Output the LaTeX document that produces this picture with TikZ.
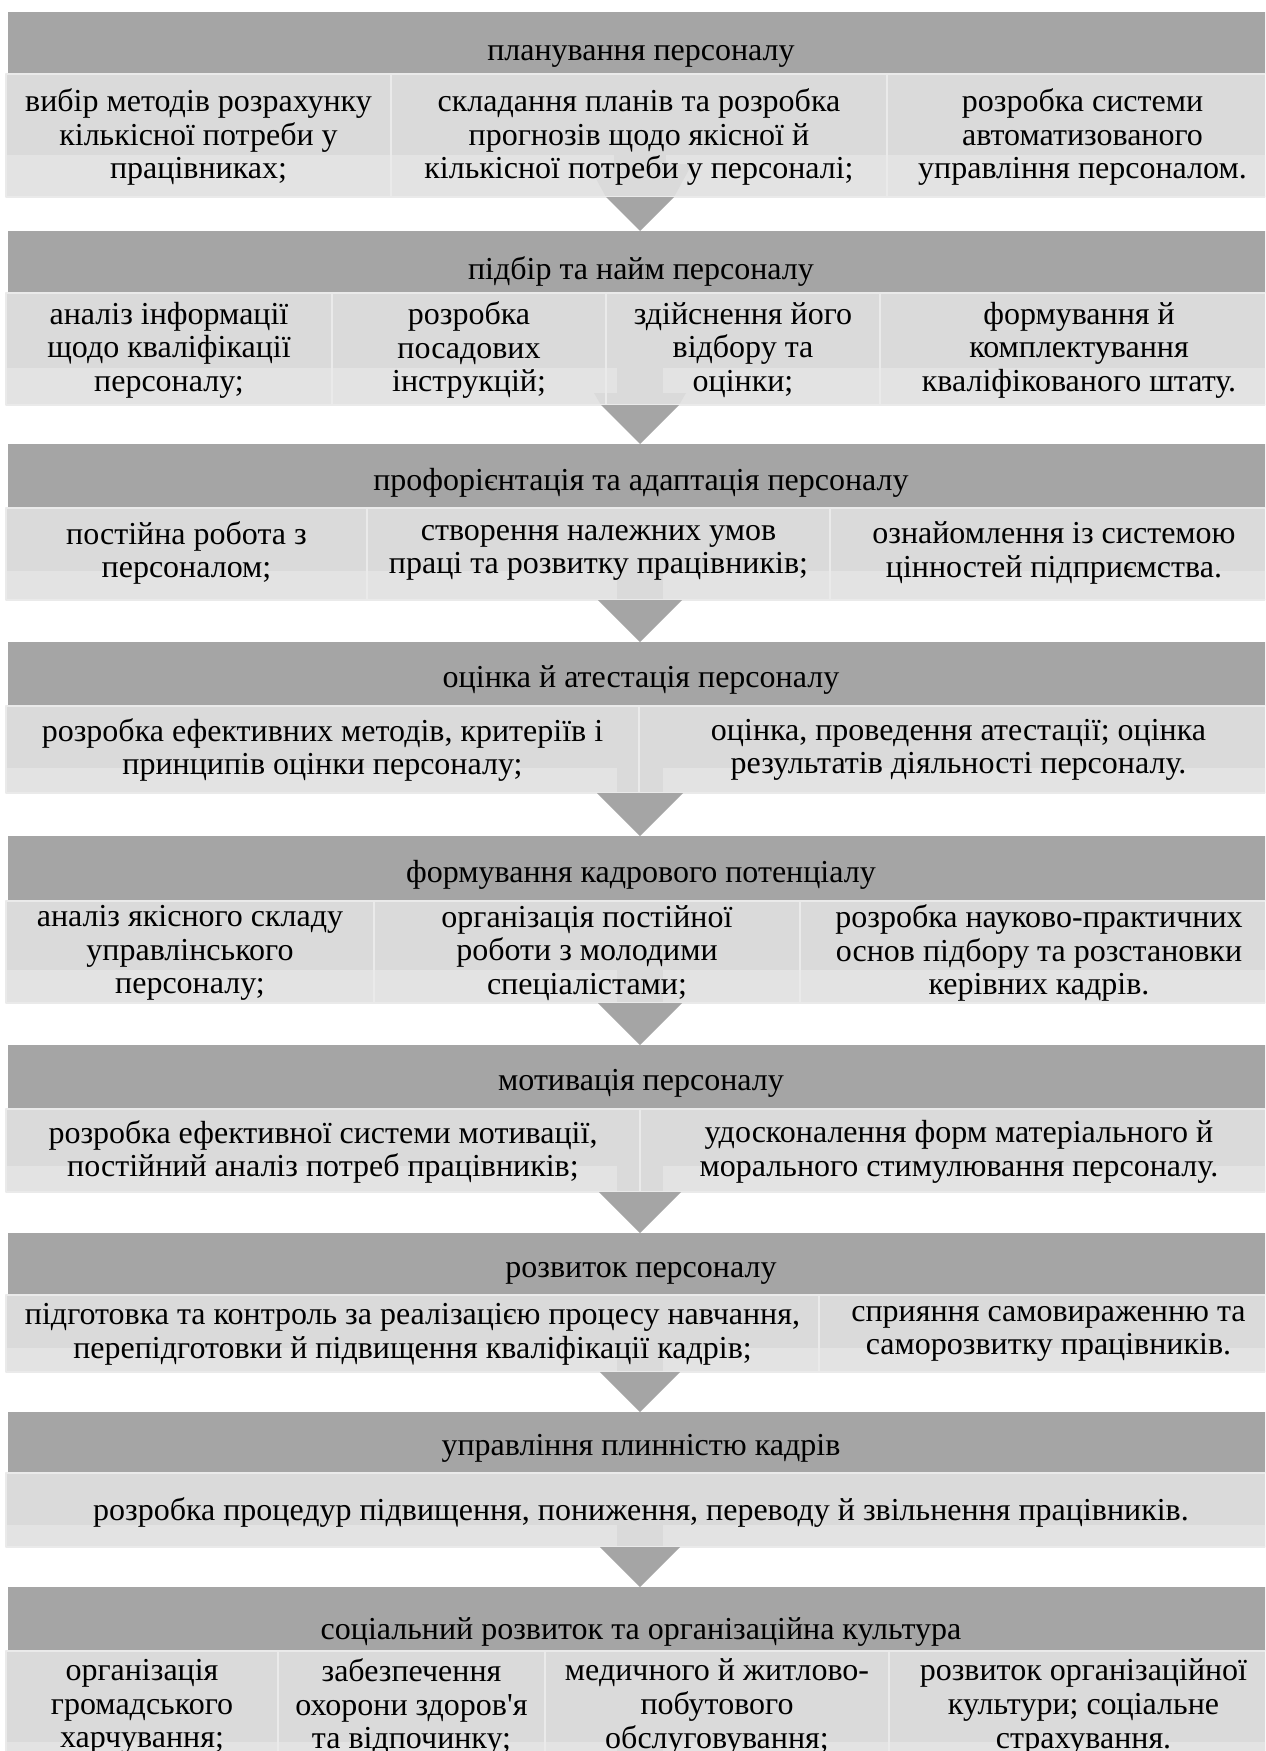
\documentclass[tikz,border=0pt]{standalone}
\usepackage{fontspec}
\setmainfont{Liberation Serif}[Ligatures=TeXOff]
\usetikzlibrary{positioning}

\definecolor{hdrgray}{HTML}{A5A5A5}
\definecolor{cellgray}{HTML}{DADADA}
\definecolor{stripgray}{HTML}{E3E3E3}
\definecolor{edgegray}{HTML}{EAEAEA}

\tikzset{
  hdrtxt/.style={font=\fontsize{16}{17}\selectfont, anchor=base, inner sep=0pt},
  celltxt/.style={font=\fontsize{16}{16.8}\selectfont, align=center, inner sep=0pt},
  celledge/.style={draw=edgegray, line width=0.8pt},
  headtri/.style={fill=hdrgray},
}

\begin{document}
\begin{tikzpicture}[x=0.5pt, y=-0.5pt, line join=round]
\useasboundingbox (0,0) rectangle (1265,1751);
\clip (0,0) rectangle (1265,1751);
\fill[white] (0,0) rectangle (1265,1751);

% band 1: planning
\fill[hdrgray] (8,12) rectangle (1278,74);
\node[hdrtxt] (plan) at (641,60) {планування персоналу};
\fill[cellgray] (6,74) rectangle (1278,197);
\fill[stripgray] (6,155) rectangle (1278,197);
\fill[cellgray] (614,155) rectangle (666,197);
\fill[cellgray] (588,164) -- (692,164) -- (674,197) -- (606,197) -- cycle;
\foreach \a/\b/\t [count=\i] in {6/391/{вибір методів розрахунку\\кількісної потреби у\\працівниках;},
  391/887/{складання планів та розробка\\прогнозів щодо якісної й\\кількісної потреби у персоналі;},
  887/1278/{розробка системи\\автоматизованого\\управління персоналом.}}{
  \draw[celledge] (\a,74) rectangle (\b,197);
  \node[celltxt] (plan\i) at ({(\a+\b)/2},137) {\t};
}
\coordinate (tip1) at (640,231);
\fill[headtri] (606,197) -- (674,197) -- (tip1) -- cycle;

% band 2: selection and hiring
\fill[hdrgray] (8,231) rectangle (1278,293);
\node[hdrtxt] (hire) at (641,279) {підбір та найм персоналу};
\fill[cellgray] (6,293) rectangle (1278,405);
\fill[stripgray] (6,368) rectangle (1278,405);
\fill[cellgray] (617,368) rectangle (663,405);
\fill[cellgray] (594,393) -- (686,393) -- (679,405) -- (601,405) -- cycle;
\foreach \a/\b/\t [count=\i] in {6/332/{аналіз інформації\\щодо кваліфікації\\персоналу;},
  332/606/{розробка\\посадових\\інструкцій;},
  606/880/{здійснення його\\відбору та\\оцінки;},
  880/1278/{формування й\\комплектування\\кваліфікованого штату.}}{
  \draw[celledge] (\a,293) rectangle (\b,405);
  \node[celltxt] (hire\i) at ({(\a+\b)/2},350) {\t};
}
\coordinate (tip2) at (640,444);
\fill[headtri] (601,405) -- (679,405) -- (tip2) -- cycle;

% band 3: orientation and adaptation
\fill[hdrgray] (8,444) rectangle (1278,508);
\node[hdrtxt] (adapt) at (641,490) {профорієнтація та адаптація персоналу};
\fill[cellgray] (6,508) rectangle (1278,600);
\fill[stripgray] (6,571) rectangle (1278,600);
\fill[cellgray] (617,571) rectangle (663,600);
\foreach \a/\b/\t [count=\i] in {6/367/{постійна робота з\\персоналом;},
  367/830/{створення належних умов\\праці та розвитку працівників;},
  830/1278/{ознайомлення із системою\\цінностей підприємства.}}{
  \draw[celledge] (\a,508) rectangle (\b,600);
  \node[celltxt] (adapt\i) at ({(\a+\b)/2},553) {\t};
}
\coordinate (tip3) at (640,642);
\fill[headtri] (598,600) -- (682,600) -- (tip3) -- cycle;

% band 4: assessment and attestation
\fill[hdrgray] (8,642) rectangle (1278,706);
\node[hdrtxt] (assess) at (641,687) {оцінка й атестація персоналу};
\fill[cellgray] (6,706) rectangle (1278,793);
\fill[stripgray] (6,768) rectangle (1278,793);
\fill[cellgray] (617,768) rectangle (663,793);
\foreach \a/\b/\t [count=\i] in {6/639/{розробка ефективних методів, критеріїв і\\принципів оцінки персоналу;},
  639/1278/{оцінка, проведення атестації; оцінка\\результатів діяльності персоналу.}}{
  \draw[celledge] (\a,706) rectangle (\b,793);
  \node[celltxt] (assess\i) at ({(\a+\b)/2},750) {\t};
}
\coordinate (tip4) at (640,836);
\fill[headtri] (597,793) -- (683,793) -- (tip4) -- cycle;

% band 5: staff potential
\fill[hdrgray] (8,836) rectangle (1278,901);
\node[hdrtxt] (pot) at (641,882) {формування кадрового потенціалу};
\fill[cellgray] (6,901) rectangle (1278,1003);
\fill[stripgray] (6,970) rectangle (1278,1003);
\fill[cellgray] (617,970) rectangle (663,1003);
\foreach \a/\b/\t [count=\i] in {6/374/{аналіз якісного складу\\управлінського\\персоналу;},
  374/800/{організація постійної\\роботи з молодими\\спеціалістами;},
  800/1278/{розробка науково-практичних\\основ підбору та розстановки\\керівних кадрів.}}{
  \draw[celledge] (\a,901) rectangle (\b,1003);
  \node[celltxt] (pot\i) at ({(\a+\b)/2},953) {\t};
}
\coordinate (tip5) at (640,1045);
\fill[headtri] (598,1003) -- (682,1003) -- (tip5) -- cycle;

% band 6: motivation
\fill[hdrgray] (8,1045) rectangle (1278,1109);
\node[hdrtxt] (motiv) at (641,1090) {мотивація персоналу};
\fill[cellgray] (6,1109) rectangle (1278,1192);
\fill[stripgray] (6,1166) rectangle (1278,1192);
\fill[cellgray] (617,1166) rectangle (663,1192);
\foreach \a/\b/\t [count=\i] in {6/640/{розробка ефективної системи мотивації,\\постійний аналіз потреб працівників;},
  640/1278/{удосконалення форм матеріального й\\морального стимулювання персоналу.}}{
  \draw[celledge] (\a,1109) rectangle (\b,1192);
  \node[celltxt] (motiv\i) at ({(\a+\b)/2},1152) {\t};
}
\coordinate (tip6) at (640,1233);
\fill[headtri] (599,1192) -- (681,1192) -- (tip6) -- cycle;

% band 7: development
\fill[hdrgray] (8,1233) rectangle (1278,1295);
\node[hdrtxt] (devel) at (641,1277) {розвиток персоналу};
\fill[cellgray] (6,1295) rectangle (1278,1372);
\fill[stripgray] (6,1348) rectangle (1278,1372);
\fill[cellgray] (617,1348) rectangle (663,1372);
\foreach \a/\b/\t [count=\i] in {6/819/{підготовка та контроль за реалізацією процесу навчання,\\перепідготовки й підвищення кваліфікації кадрів;},
  819/1278/{сприяння самовираженню та\\саморозвитку працівників.}}{
  \draw[celledge] (\a,1295) rectangle (\b,1372);
  \node[celltxt] (devel\i) at ({(\a+\b)/2},1334) {\t};
}
\coordinate (tip7) at (640,1412);
\fill[headtri] (600,1372) -- (680,1372) -- (tip7) -- cycle;

% band 8: turnover
\fill[hdrgray] (8,1412) rectangle (1278,1473);
\node[hdrtxt] (turn) at (641,1455) {управління плинністю кадрів};
\fill[cellgray] (6,1473) rectangle (1278,1547);
\fill[stripgray] (6,1525) rectangle (1278,1547);
\fill[cellgray] (617,1525) rectangle (663,1547);
\draw[celledge] (6,1473) rectangle (1278,1547);
\node[celltxt] (turn1) at (641,1512) {розробка процедур підвищення, пониження, переводу й звільнення працівників.};
\coordinate (tip8) at (640,1587);
\fill[headtri] (600,1547) -- (680,1547) -- (tip8) -- cycle;

% band 9: social development and culture
\fill[hdrgray] (8,1587) rectangle (1278,1651);
\node[hdrtxt] (soc) at (641,1639) {соціальний розвиток та організаційна культура};
\fill[cellgray] (6,1651) rectangle (1278,1775);
\fill[stripgray] (6,1742) rectangle (1278,1775);
\fill[cellgray] (617,1742) rectangle (663,1775);
\foreach \a/\b/\t [count=\i] in {6/278/{організація\\громадського\\харчування;},
  278/545/{забезпечення\\охорони здоров'я\\та відпочинку;},
  545/889/{медичного й житлово-\\побутового\\обслуговування;},
  889/1278/{розвиток організаційної\\культури; соціальне\\страхування.}}{
  \draw[celledge] (\a,1651) rectangle (\b,1775);
  \node[celltxt] (soc\i) at ({(\a+\b)/2},1707) {\t};
}
\end{tikzpicture}
\end{document}
